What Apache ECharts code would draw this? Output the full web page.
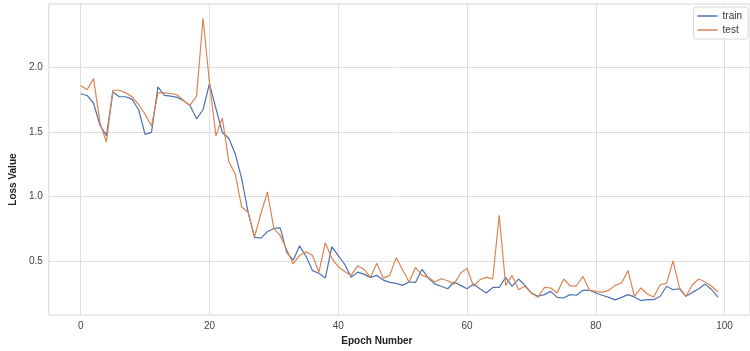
<!DOCTYPE html>
<html>
<head>
<meta charset="utf-8">
<script src="https://cdn.jsdelivr.net/npm/echarts@6/dist/echarts.min.js"></script>
<style>html,body{margin:0;padding:0;background:#fff}#c{width:750px;height:351px}</style>
</head>
<body>
<div id="c"></div>
<script>
const epochs = Array.from({length: 100}, (_, i) => i);
const train = [1.793,1.78,1.72,1.55,1.47,1.806,1.77,1.77,1.75,1.67,1.48,1.495,1.847,1.78,1.775,1.765,1.74,1.70,1.60,1.67,
1.872,1.68,1.495,1.45,1.33,1.14,0.88,0.686,0.68,0.73,0.755,0.76,0.57,0.51,0.622,0.54,0.43,0.41,0.372,0.615,
0.546,0.479,0.378,0.418,0.403,0.378,0.393,0.357,0.339,0.332,0.316,0.342,0.339,0.441,0.372,0.326,0.309,0.29,0.342,0.316,
0.29,0.326,0.29,0.257,0.30,0.30,0.378,0.309,0.365,0.316,0.257,0.232,0.245,0.27,0.224,0.219,0.245,0.24,0.278,0.278,
0.257,0.24,0.224,0.204,0.224,0.245,0.227,0.199,0.206,0.206,0.232,0.309,0.283,0.29,0.232,0.262,0.29,0.326,0.283,0.224];
const test = [1.857,1.824,1.91,1.57,1.42,1.82,1.82,1.80,1.77,1.71,1.635,1.545,1.80,1.80,1.795,1.785,1.74,1.705,1.775,2.375,
1.88,1.47,1.605,1.27,1.175,0.92,0.88,0.69,0.87,1.036,0.755,0.70,0.59,0.482,0.546,0.576,0.546,0.418,0.645,0.525,
0.46,0.423,0.393,0.467,0.441,0.378,0.487,0.372,0.393,0.53,0.436,0.342,0.454,0.393,0.378,0.342,0.367,0.352,0.326,0.41,
0.449,0.309,0.36,0.38,0.365,0.857,0.316,0.393,0.283,0.309,0.257,0.224,0.30,0.296,0.257,0.365,0.313,0.313,0.385,0.28,
0.27,0.262,0.278,0.316,0.334,0.43,0.232,0.296,0.25,0.227,0.321,0.334,0.505,0.296,0.232,0.321,0.365,0.342,0.309,0.265];
const xTicks = [0, 20, 40, 60, 80, 100];
const yTicks = [0.5, 1.0, 1.5, 2.0];

const font = 'Liberation Sans, Arial, sans-serif';
const chart = echarts.init(document.getElementById('c'), null, {renderer: 'canvas'});
chart.setOption({
  animation: false,
  backgroundColor: '#fff',
  grid: {left: 48, right: -2, top: 4, bottom: 34, show: true, borderColor: '#d6d6d6', borderWidth: 1, backgroundColor: 'transparent'},
  legend: {
    orient: 'vertical', right: 2, top: 7,
    data: ['train', 'test'],
    icon: 'rect', itemWidth: 20, itemHeight: 1.5, itemGap: 4,
    padding: [4, 6, 4, 4],
    borderColor: '#d8d8d8', borderWidth: 1, borderRadius: 3, backgroundColor: '#fff',
    textStyle: {fontFamily: font, fontSize: 10, color: '#333'}
  },
  xAxis: {
    type: 'value', min: -4.95, max: 103.95,
    name: 'Epoch Number', nameLocation: 'middle', nameGap: 20,
    nameTextStyle: {fontFamily: font, fontSize: 10, fontWeight: 'bold', color: '#222', padding: [0, 45, 0, 0]},
    axisLine: {show: false},
    axisTick: {show: false, customValues: xTicks},
    axisLabel: {customValues: xTicks, fontFamily: font, fontSize: 10, color: '#444', margin: 6,
      formatter: v => String(v)},
    splitLine: {show: true, lineStyle: {color: '#dedede', width: 1}}
  },
  yAxis: {
    type: 'value', min: 0.087, max: 2.485,
    name: 'Loss Value', nameLocation: 'middle', nameGap: 29,
    nameTextStyle: {fontFamily: font, fontSize: 10, fontWeight: 'bold', color: '#222', padding: [0, 40, 0, 0]},
    axisLine: {show: false},
    axisTick: {show: false, customValues: yTicks},
    axisLabel: {customValues: yTicks, fontFamily: font, fontSize: 10, color: '#444', margin: 6,
      formatter: v => v.toFixed(1)},
    splitLine: {show: true, lineStyle: {color: '#dedede', width: 1}}
  },
  series: [
    {name: 'train', type: 'line', data: epochs.map((e, i) => [e, train[i]]), showSymbol: false, symbol: 'none',
      lineStyle: {color: '#4c72b0', width: 1.2}, itemStyle: {color: '#4c72b0'}},
    {name: 'test', type: 'line', data: epochs.map((e, i) => [e, test[i]]), showSymbol: false, symbol: 'none',
      lineStyle: {color: '#dd8452', width: 1.2}, itemStyle: {color: '#dd8452'}}
  ]
});
</script>
</body>
</html>
